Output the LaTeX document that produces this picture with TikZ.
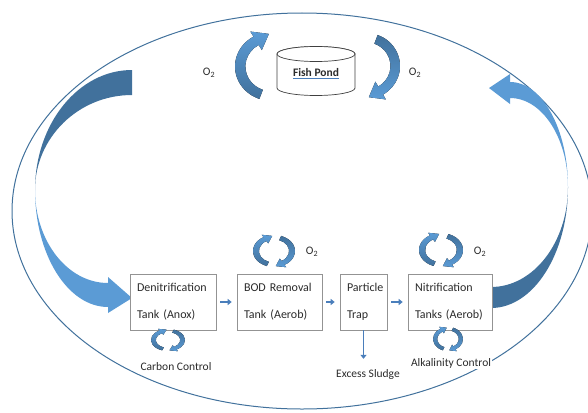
\documentclass[tikz,border=0pt]{standalone}
\usepackage{fontspec}
\setmainfont{Carlito}
\usetikzlibrary{arrows.meta}

\definecolor{blueL}{HTML}{5B9BD5}
\definecolor{blueD}{HTML}{41719C}
\definecolor{blueM}{HTML}{4A7EBB}
\definecolor{txt}{HTML}{2B2B2B}

% the two halves of a round arrow pair, in unit size
\newcommand\swirlleft{\fill[top color=blueL, bottom color=blueD]
      (110:1) arc[start angle=110, end angle=240, radius=1]
      -- (240:1.17) -- (-0.084,-0.945) -- (240:0.55) -- (240:0.72)
      arc[start angle=240, end angle=110, radius=0.72] -- cycle;}
\newcommand\swirlright{\fill[top color=blueD, bottom color=blueL]
      (290:1) arc[start angle=290, end angle=420, radius=1]
      -- (60:1.17) -- (0.084,0.945) -- (60:0.55) -- (60:0.72)
      arc[start angle=420, end angle=290, radius=0.72] -- cycle;}

\tikzset{
  tank/.style={draw=gray!85, line width=0.6pt, fill=white, align=left, inner xsep=7pt,
    minimum height=56pt, text=txt, font=\fontsize{12}{14}\selectfont},
  lbl/.style={fill=white, inner sep=1pt, text=txt, font=\fontsize{11.5}{14}\selectfont},
  flow/.style={draw=blueM, line width=1.6pt, -{Triangle[length=4pt,width=6pt]},
    shorten <=4pt, shorten >=5pt},
  pondline/.style={draw=black!75, line width=0.7pt, fill=white},
  pics/swirlL/.style={code={\swirlleft}},
  pics/swirlR/.style={code={\swirlright}},
  pics/swirl/.style={code={\swirlleft\swirlright}}
}

\begin{document}
\begin{tikzpicture}[x=1pt, y=-1pt]
    \useasboundingbox (0,0) rectangle (588,412);

    % outer loop
    \draw[blueD, line width=1pt] (302,211) ellipse[x radius=290, y radius=198];

    % return arrow, left side
    \fill[blueD] (132,70) arc[start angle=270, end angle=180, x radius=97, y radius=120]
      arc[start angle=180, end angle=270, x radius=97, y radius=95] -- cycle;
    \fill[blueL] (35,190) arc[start angle=180, end angle=90, x radius=73, y radius=117]
      -- (108,313) -- (132,298) -- (108,277) -- (108,283)
      arc[start angle=90, end angle=180, x radius=73, y radius=93] -- cycle;

    % return arrow, right side
    \fill[blueD] (491,308) arc[start angle=90, end angle=0, x radius=77, y radius=121]
      arc[start angle=0, end angle=90, x radius=77, y radius=100] -- cycle;
    \fill[blueL] (568,187) arc[start angle=0, end angle=-90, x radius=58, y radius=105]
      -- (510,74) -- (489,88) -- (510,104) -- (510,98)
      arc[start angle=-90, end angle=0, x radius=58, y radius=89] -- cycle;

    % fish pond
    \draw[pondline] (277,54) -- (277,88) arc[start angle=180, end angle=0, x radius=39, y radius=7.5]
      -- (355,54) arc[start angle=0, end angle=-180, x radius=39, y radius=7.5] -- cycle;
    \draw[pondline] (316,54) ellipse[x radius=39, y radius=7.5];
    \node[text=txt, font=\fontsize{11.5}{14}\selectfont] (pond) at (316,74)
      {\color{blueM}\underline{\textcolor{txt}{\textbf{Fish Pond}}}};
    \pic[xscale=37, yscale=34.5] at (272,66.5) {swirlL};
    \pic[xscale=34, yscale=33] at (366,66) {swirlR};
    \node[lbl] (o2a) at (209,73) {O\textsubscript{2}};
    \node[lbl] (o2b) at (415,73) {O\textsubscript{2}};

    % Tanks
    \node[tank, text width=72pt] (den) at (173,302) {Denitrification\\[13pt]Tank (Anox)};
    \node[tank, text width=71pt] (bod) at (279.5,302) {BOD Removal\\[13pt]Tank (Aerob)};
    \node[tank, text width=33pt] (trap) at (363.5,302) {Particle\\[13pt]Trap};
    \node[tank, text width=70pt] (nit) at (450,302) {Nitrification\\[13pt]Tanks (Aerob)};

    % aeration and dosing
    \pic[xscale=21, yscale=16] at (274,251) {swirl};
    \pic[xscale=22, yscale=17] at (441,250) {swirl};
    \pic[xscale=17, yscale=11] at (168,340) {swirl};
    \pic[xscale=15, yscale=12] at (448,339) {swirl};
    \node[lbl] (o2c) at (312,252) {O\textsubscript{2}};
    \node[lbl] (o2d) at (480,252) {O\textsubscript{2}};
    \node[lbl] (carbon) at (176,367) {Carbon Control};
    \node[lbl] (alkal) at (451,363) {Alkalinity Control};
    \node[lbl] (sludge) at (368,374) {Excess Sludge};

    % flow
    \draw[flow] (den) -- (bod);
    \draw[flow] (bod) -- (trap);
    \draw[flow] (trap) -- (nit);
    \draw[flow, shorten <=0pt, shorten >=9pt] (trap.south) -- (trap.south |- sludge.north);
\end{tikzpicture}
\end{document}
